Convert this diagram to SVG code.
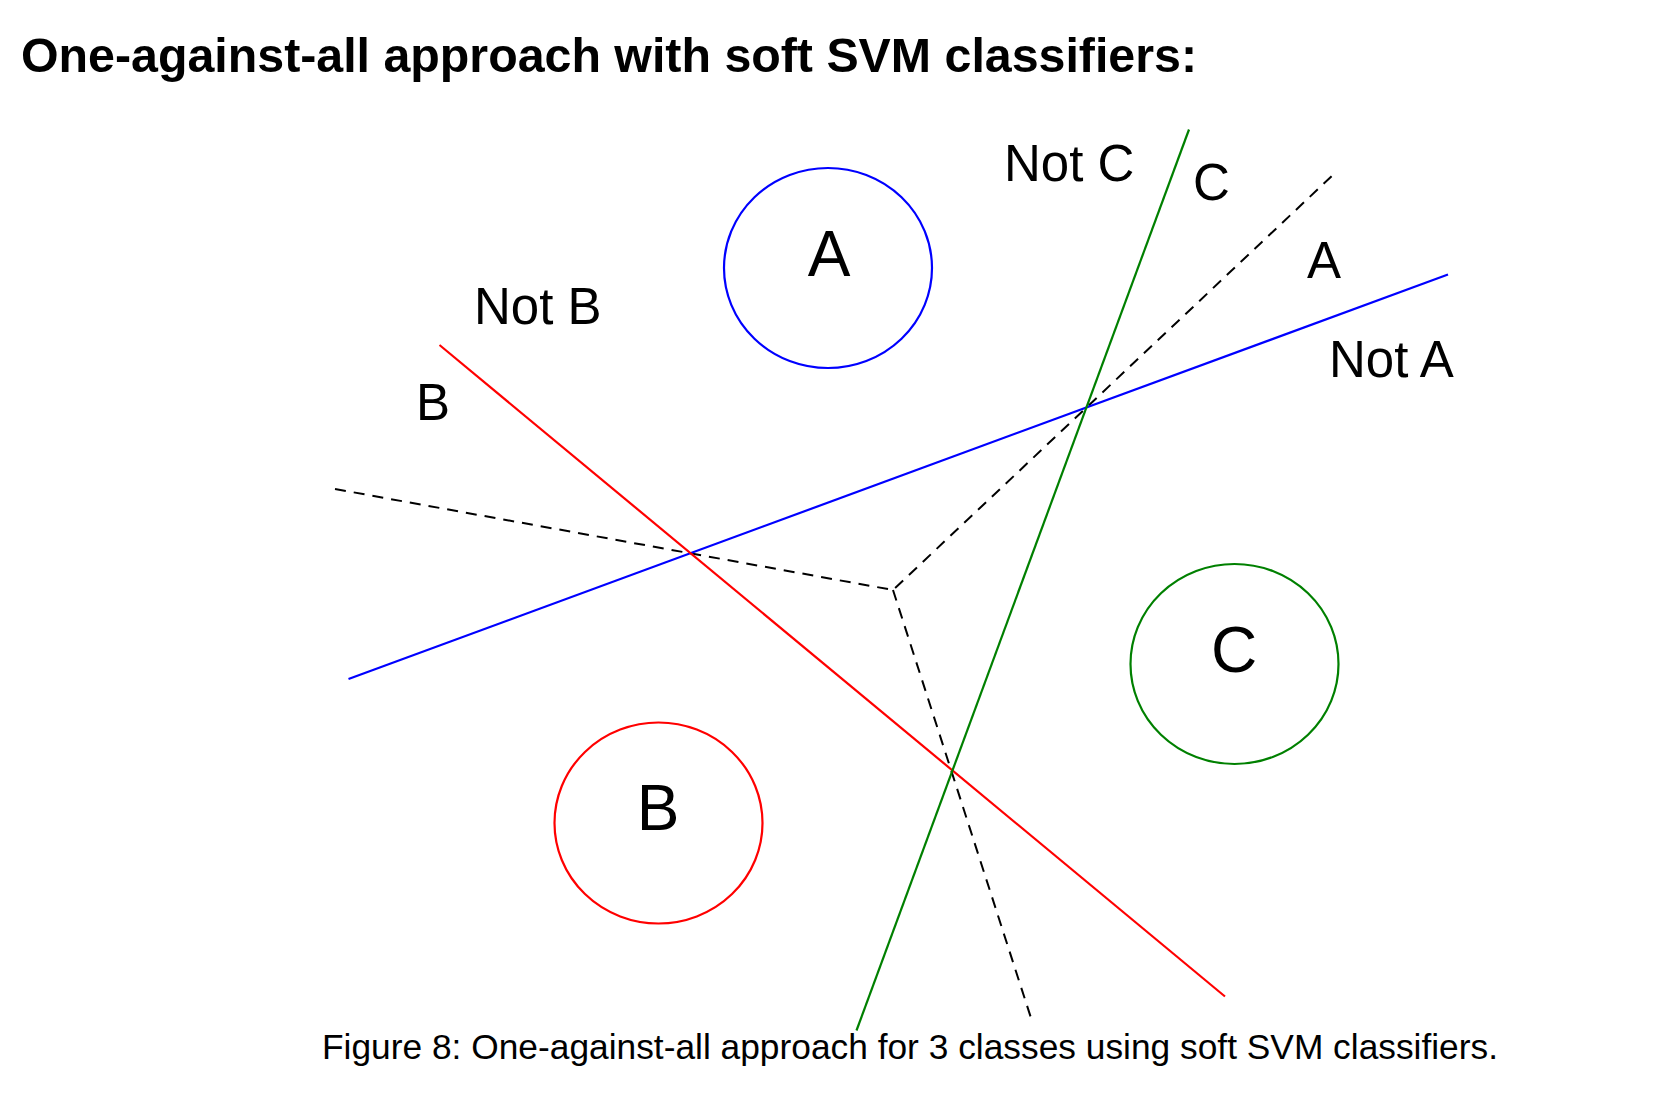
<svg xmlns="http://www.w3.org/2000/svg" width="1666" height="1110" viewBox="0 0 1666 1110">
<style>
text { font-family: "Liberation Sans", Arial, sans-serif; fill: #000; }
.title { font-weight: bold; font-size: 48px; }
.cap { font-size: 35px; }
.lbl { font-size: 51px; }
.big { font-size: 64px; text-anchor: middle; }
.ln { fill: none; stroke-width: 2.2; }
.dash { fill: none; stroke: #000; stroke-width: 2; stroke-dasharray: 11 8; }
</style>
<rect width="1666" height="1110" fill="#fff"/>
<text class="title" x="21" y="72" textLength="1176" lengthAdjust="spacingAndGlyphs">One-against-all approach with soft SVM classifiers:</text>

<g id="lines">
  <polyline class="dash" points="335,489 893,590 1334,174"/>
  <line class="dash" x1="893" y1="590" x2="1031" y2="1018"/>
  <line class="ln" stroke="#0000ff" x1="348.5" y1="679" x2="1448" y2="274.5"/>
  <line class="ln" stroke="#ff0000" x1="439.5" y1="345" x2="1225" y2="996.5"/>
  <line class="ln" stroke="#008000" x1="1189" y1="129.5" x2="856.5" y2="1030.5"/>
</g>

<g id="nodeA">
  <ellipse class="ln" stroke="#0000ff" cx="828" cy="268" rx="104" ry="100"/>
  <text class="big" x="829" y="276">A</text>
</g>
<g id="nodeB">
  <ellipse class="ln" stroke="#ff0000" cx="658.5" cy="823" rx="104" ry="100.5"/>
  <text class="big" x="658" y="830">B</text>
</g>
<g id="nodeC">
  <ellipse class="ln" stroke="#008000" cx="1234.5" cy="664" rx="104" ry="100"/>
  <text class="big" x="1234" y="672">C</text>
</g>

<g id="labels">
  <text class="lbl" x="1004" y="181">Not C</text>
  <text class="lbl" x="1193" y="200">C</text>
  <text class="lbl" x="1307" y="278">A</text>
  <text class="lbl" x="1329" y="377">Not A</text>
  <text class="lbl" x="474" y="324">Not B</text>
  <text class="lbl" x="416" y="420">B</text>
</g>

<text class="cap" x="322" y="1059" textLength="1176" lengthAdjust="spacingAndGlyphs">Figure 8: One-against-all approach for 3 classes using soft SVM classifiers.</text>
</svg>
